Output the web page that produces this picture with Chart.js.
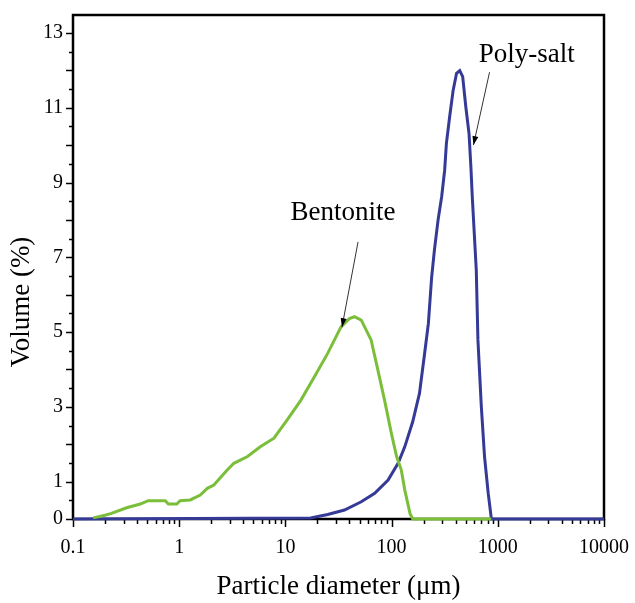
<!DOCTYPE html>
<html>
<head>
<meta charset="utf-8">
<script src="https://cdn.jsdelivr.net/npm/chart.js@4.4.1/dist/chart.umd.min.js"></script>
<style>
  html, body { margin: 0; padding: 0; background: #fff; }
  #wrap { width: 635px; height: 603px; }
</style>
</head>
<body>
<div id="wrap"><canvas id="myChart"></canvas></div>
<script>
// tick labels
const xTickValues = [0.1, 1, 10, 100, 1000, 10000];
const yTickValues = [0, 1, 3, 5, 7, 9, 11, 13];

// Bentonite (green)
const bentoniteSize = [0.155, 0.2, 0.23, 0.32, 0.43, 0.51, 0.74, 0.79, 0.95, 1.02, 1.27, 1.58, 1.84, 2.12,
  2.83, 3.27, 4.4, 5.8, 7.8, 10.4, 14.0, 18.7, 25.0, 33.4, 40.0, 44.7, 51.8, 64.1, 74.3, 85.8, 99.5,
  111.5, 123.4, 133, 149, 158, 870];
const bentoniteVolume = [0.03, 0.1, 0.15, 0.30, 0.40, 0.49, 0.49, 0.40, 0.40, 0.49, 0.51, 0.64, 0.82, 0.91,
  1.31, 1.49, 1.67, 1.93, 2.16, 2.65, 3.18, 3.80, 4.43, 5.14, 5.36, 5.41, 5.32, 4.79, 3.98, 3.18, 2.29,
  1.67, 1.31, 0.78, 0.15, 0, 0];

// Poly-salt (blue)
const polySaltSize = [0.1, 17.3, 25, 36, 51.8, 69.3, 92.7, 115, 133, 158, 183, 204, 222, 238, 253, 274,
  296, 316, 328, 352, 380, 409, 438, 467, 500, 536, 558, 575, 627, 650, 700, 750, 812, 870, 10000];
const polySaltVolume = [0, 0.03, 0.12, 0.24, 0.46, 0.69, 1.04, 1.49, 1.93, 2.6, 3.36, 4.4, 5.23, 6.45, 7.19, 8.0,
  8.62, 9.33, 10.04, 10.76, 11.47, 11.92, 11.99, 11.83, 11.02, 10.31, 9.42, 8.62, 6.66, 4.79, 3.0, 1.67, 0.69, 0, 0];

const serif = '"Liberation Serif", "Times New Roman", serif';

function toPoints(xs, ys) {
  return xs.map((v, i) => ({ x: v, y: ys[i] }));
}

function arrow(ctx, x0, y0, x1, y1) {
  ctx.beginPath();
  ctx.moveTo(x0, y0);
  ctx.lineTo(x1, y1);
  ctx.stroke();
  const ang = Math.atan2(y1 - y0, x1 - x0);
  const len = 9, w = 3;
  ctx.beginPath();
  ctx.moveTo(x1, y1);
  ctx.lineTo(x1 - len * Math.cos(ang) + w * Math.sin(ang), y1 - len * Math.sin(ang) - w * Math.cos(ang));
  ctx.lineTo(x1 - len * Math.cos(ang) - w * Math.sin(ang), y1 - len * Math.sin(ang) + w * Math.cos(ang));
  ctx.closePath();
  ctx.fill();
}

const framePlugin = {
  id: 'frame',
  beforeDatasetsDraw(chart) {
    const { ctx, chartArea: a, scales: { x, y } } = chart;
    ctx.save();
    ctx.strokeStyle = '#000';
    // y ticks, outward
    ctx.lineWidth = 1.5;
    for (let v = 0; v <= 13; v += 0.5) {
      const py = Math.round(y.getPixelForValue(v)) + 0.5;
      const len = Number.isInteger(v) ? 7 : 4;
      ctx.beginPath();
      ctx.moveTo(a.left, py);
      ctx.lineTo(a.left - len, py);
      ctx.stroke();
    }
    // x ticks, outward
    for (let e = -1; e <= 4; e++) {
      for (let m = 1; m <= 9; m++) {
        const v = m * Math.pow(10, e);
        if (v > 10000) break;
        const px = Math.round(x.getPixelForValue(v)) + 0.5;
        const len = m === 1 ? 8 : 5;
        ctx.beginPath();
        ctx.moveTo(px, a.bottom);
        ctx.lineTo(px, a.bottom + len);
        ctx.stroke();
      }
    }
    // box
    ctx.lineWidth = 2.5;
    ctx.strokeRect(a.left, a.top, a.right - a.left, a.bottom - a.top);
    // y title
    ctx.fillStyle = '#000';
    ctx.font = '27px ' + serif;
    ctx.textAlign = 'center';
    ctx.textBaseline = 'middle';
    ctx.translate(22, 302);
    ctx.rotate(-Math.PI / 2);
    ctx.fillText('Volume (%)', 0, 0);
    ctx.restore();
  },
  afterDraw(chart) {
    const { ctx, scales: { x, y } } = chart;
    ctx.save();
    ctx.fillStyle = '#000';
    ctx.strokeStyle = '#333';
    ctx.lineWidth = 1;
    ctx.font = '27px ' + serif;
    ctx.textAlign = 'center';
    ctx.textBaseline = 'middle';
    ctx.fillText('Bentonite', x.getPixelForValue(34.9), y.getPixelForValue(8.18));
    ctx.fillText('Poly-salt', x.getPixelForValue(1871), y.getPixelForValue(12.41));
    arrow(ctx, x.getPixelForValue(48.3), y.getPixelForValue(7.41), x.getPixelForValue(34.1), y.getPixelForValue(5.13));
    arrow(ctx, x.getPixelForValue(836), y.getPixelForValue(11.95), x.getPixelForValue(590), y.getPixelForValue(10.0));
    ctx.restore();
  }
};

const ctx = document.getElementById('myChart').getContext('2d');
const myChart = new Chart(ctx, {
  type: 'line',
  data: {
    datasets: [{
      label: 'Poly-salt',
      data: toPoints(polySaltSize, polySaltVolume),
      borderColor: 'rgb(52, 58, 150)',
      borderWidth: 3,
      pointRadius: 0,
      tension: 0,
      clip: 4,
      order: 2
    }, {
      label: 'Bentonite',
      data: toPoints(bentoniteSize, bentoniteVolume),
      borderColor: 'rgb(122, 190, 58)',
      borderWidth: 3,
      pointRadius: 0,
      tension: 0,
      clip: 4,
      order: 1
    }]
  },
  options: {
    responsive: true,
    maintainAspectRatio: false,
    animation: false,
    layout: { padding: { left: 0, top: 15, right: 31, bottom: 0 } },
    plugins: { legend: { display: false }, tooltip: { enabled: false } },
    scales: {
      x: {
        type: 'logarithmic',
        min: 0.1,
        max: 10000,
        afterBuildTicks: s => { s.ticks = xTickValues.map(v => ({ value: v })); },
        afterFit: s => { s.height = 84; s.paddingLeft = 0; s.paddingRight = 0; },
        grid: { display: false, drawTicks: false },
        border: { display: false },
        ticks: {
          callback: v => String(v),
          color: '#000',
          font: { family: serif, size: 20 },
          padding: 17,
          maxRotation: 0,
          autoSkip: false
        },
        title: {
          display: true,
          text: 'Particle diameter (μm)',
          color: '#000',
          font: { family: serif, size: 27 },
          padding: { top: 0, bottom: 0 }
        }
      },
      y: {
        type: 'linear',
        min: 0,
        max: 13.48,
        afterBuildTicks: s => { s.ticks = yTickValues.map(v => ({ value: v })); },
        afterFit: s => { s.width = 73; s.paddingTop = 0; s.paddingBottom = 0; },
        grid: { display: false, drawTicks: false },
        border: { display: false },
        ticks: {
          callback: v => String(v),
          color: '#000',
          font: { family: serif, size: 20 },
          padding: 10
        }
      }
    }
  },
  plugins: [framePlugin]
});
</script>
</body>
</html>
